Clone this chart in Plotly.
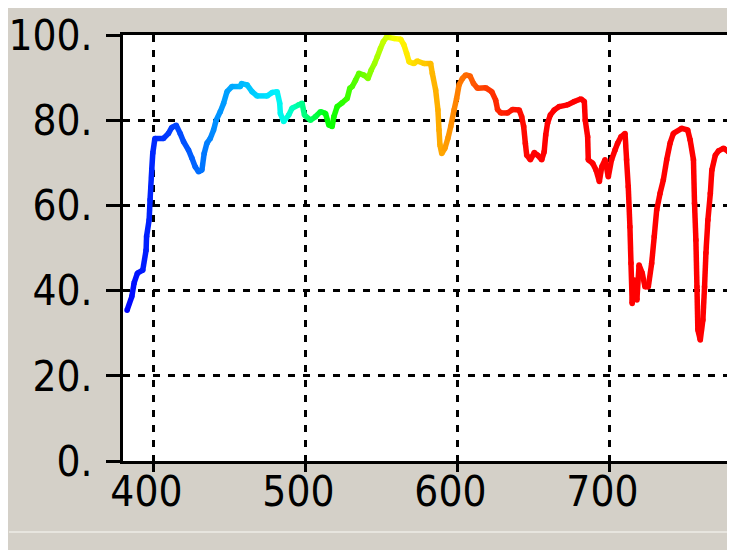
import plotly.graph_objects as go

# Wavelength (nm)
wavelength = [
    382.7, 385.8, 387.3, 389.5, 393.0, 395.2, 395.5, 397.2, 397.8, 398.9,
    399.6, 401.0, 406.6, 409.9, 412.1, 415.0, 417.6, 419.8, 423.1, 425.3,
    427.5, 429.7, 431.9, 433.4, 435.2, 437.4, 439.6, 441.3, 444.0, 446.2,
    448.4, 451.7, 457.2, 458.0, 461.6, 464.9, 468.2, 474.8, 478.1, 481.4,
    483.1, 483.5, 485.7, 489.0, 491.2, 495.6, 497.8, 499.4, 503.3, 506.6,
    509.9, 513.2, 515.4, 517.6, 518.7, 520.9, 524.2, 527.5, 529.2, 530.8,
    533.0, 535.2, 538.5, 541.2, 543.3, 545.5, 547.3, 549.4, 551.2, 553.4,
    558.3, 562.7, 564.8, 566.6, 568.2, 571.4, 573.6, 578.0, 582.4, 583.5,
    585.7, 587.2, 587.9, 588.5, 589.7, 591.8, 593.8, 595.6, 597.8, 599.5,
    601.1, 603.3, 605.5, 608.3, 610.6, 613.2, 618.7, 622.6, 625.2, 626.4,
    628.6, 633.0, 636.3, 640.7, 642.3, 643.6, 644.7, 645.6, 648.0, 650.6,
    652.8, 655.5, 657.1, 658.1, 659.3, 661.1, 663.7, 667.0, 672.5, 676.9,
    681.3, 683.5, 684.1, 685.7, 686.1, 689.0, 691.2, 693.4, 695.0, 697.1,
    699.3, 701.4, 703.7, 705.4, 707.6, 710.3, 711.3, 712.4, 713.5, 714.2,
    715.0, 716.4, 718.1, 719.5, 721.6, 723.4, 725.6, 727.8, 729.5, 731.1,
    733.3, 735.5, 737.7, 739.9, 742.1, 747.6, 751.5, 753.1, 755.3, 756.0,
    756.9, 757.6, 758.2, 759.8, 761.5, 762.6, 763.5, 764.8, 766.4, 767.4,
    769.7, 771.8, 775.1, 778.4, 780.0,
]

# Measured value (%)
values = [
    35.4, 38.6, 41.8, 44.1, 44.8, 49.5, 52.7, 56.6, 61.3, 68.3,
    72.3, 75.7, 75.7, 76.9, 78.3, 78.8, 76.9, 75.0, 73.0, 71.1,
    69.1, 67.9, 68.3, 72.2, 74.6, 75.7, 77.7, 80.0, 82.0, 84.0,
    86.7, 87.9, 87.9, 88.6, 88.3, 86.7, 85.7, 85.7, 86.5, 86.7,
    84.0, 81.6, 79.7, 81.2, 82.8, 83.6, 84.0, 81.2, 80.0, 80.8,
    82.0, 81.6, 78.9, 78.5, 80.8, 83.2, 84.1, 85.1, 87.5, 87.9,
    89.4, 91.0, 90.6, 89.8, 91.8, 93.3, 94.9, 96.9, 98.4, 99.5,
    99.2, 99.0, 97.7, 95.7, 93.7, 93.3, 93.9, 93.3, 93.3, 91.0,
    87.1, 82.4, 77.7, 74.2, 72.2, 73.4, 75.8, 78.5, 82.4, 85.1,
    88.3, 89.8, 90.6, 90.4, 88.6, 87.5, 87.6, 86.7, 84.7, 82.5,
    81.7, 81.7, 82.5, 82.4, 80.8, 78.5, 74.6, 71.8, 70.7, 72.4,
    71.8, 70.7, 72.6, 76.5, 79.3, 81.2, 82.4, 83.2, 83.6, 84.4,
    85.0, 84.4, 80.0, 76.1, 70.7, 69.9, 68.3, 65.6, 69.1, 70.7,
    66.7, 70.7, 73.0, 74.6, 76.1, 76.9, 70.7, 64.4, 55.0, 46.4,
    37.0, 42.5, 37.8, 46.0, 44.1, 40.9, 40.9, 46.4, 52.7, 58.9,
    62.8, 66.0, 70.7, 74.6, 76.9, 78.1, 77.7, 75.4, 70.7, 60.5,
    51.9, 40.9, 30.8, 28.4, 33.1, 40.9, 48.8, 56.6, 62.8, 68.3,
    71.8, 72.8, 73.4, 72.6, 72.6,
]

x_ticks = [400, 500, 600, 700]
x_tick_labels = ["400", "500", "600", "700"]
y_ticks = [0, 20, 40, 60, 80, 100]
y_tick_labels = ["0.", "20.", "40.", "60.", "80.", "100."]
x_title = "波長(nm)"

# spectral colour stops (styling)
stops = [
    (380, (0, 0, 255)), (400, (0, 40, 255)), (420, (0, 80, 255)),
    (440, (0, 140, 255)), (460, (0, 190, 255)), (480, (0, 240, 255)),
    (488, (0, 255, 220)), (500, (0, 255, 120)), (515, (0, 255, 0)),
    (540, (120, 255, 0)), (555, (220, 255, 0)), (560, (255, 255, 0)),
    (575, (255, 210, 0)), (590, (255, 165, 0)), (600, (255, 128, 0)),
    (615, (255, 70, 0)), (630, (255, 30, 0)), (650, (255, 0, 0)),
]


def spectral(w):
    if w <= stops[0][0]:
        c = stops[0][1]
    elif w >= stops[-1][0]:
        c = stops[-1][1]
    else:
        for (w0, c0), (w1, c1) in zip(stops[:-1], stops[1:]):
            if w0 <= w <= w1:
                t = (w - w0) / (w1 - w0)
                c = tuple(round(a + (b - a) * t) for a, b in zip(c0, c1))
                break
    return "rgb(%d,%d,%d)" % c


fig = go.Figure()
for i in range(len(wavelength) - 1):
    mid = (wavelength[i] + wavelength[i + 1]) / 2
    col = spectral(mid)
    fig.add_trace(go.Scatter(
        x=wavelength[i:i + 2], y=values[i:i + 2], mode="lines",
        line=dict(color=col, width=5.5), hoverinfo="skip", showlegend=False,
    ))
fig.add_trace(go.Scatter(
    x=wavelength, y=values, mode="markers",
    marker=dict(size=5.5, color=[spectral(w) for w in wavelength], line=dict(width=0)),
    hoverinfo="skip", showlegend=False,
))

# The page body adds an 8px offset; figure coordinates = screen - 8
OFF = 8
W, H = 735, 550
ML, MR, MT, MB = 123 - OFF, 12, 35 - OFF, 97
PW, PH = W - ML - MR, H - MT - MB


def px_x(p):
    return (p - OFF - ML) / PW


def px_y(p):
    return (H - MB - (p - OFF)) / PH


tick_font = dict(family="DejaVu Sans Condensed, sans-serif", size=42, color="black")

fig.update_layout(
    width=W, height=H, autosize=False,
    margin=dict(l=ML, r=MR, t=MT, b=MB, pad=0, autoexpand=False),
    paper_bgcolor="#D4D0C8", plot_bgcolor="white",
    showlegend=False,
    xaxis=dict(
        range=[380, 780], tickvals=x_ticks, ticktext=x_tick_labels,
        ticks="outside", ticklen=8, tickwidth=3, tickcolor="black",
        showline=True, linewidth=3, linecolor="black", mirror=True,
        showgrid=True, gridcolor="black", gridwidth=3, griddash="7px,8px",
        zeroline=False, tickfont=tick_font, ticklabelshift=-7,
        ticklabelstandoff=-16, automargin=False, ticklabeloverflow="allow",
    ),
    yaxis=dict(
        range=[0, 100], tickvals=y_ticks, ticktext=y_tick_labels,
        ticks="outside", ticklen=14, tickwidth=3, tickcolor="black",
        showline=True, linewidth=3, linecolor="black", mirror=True,
        showgrid=True, gridcolor="black", gridwidth=3, griddash="7px,8px",
        zeroline=False, tickfont=tick_font, ticklabelstandoff=5,
        automargin=False, ticklabeloverflow="allow",
    ),
    shapes=[
        dict(type="line", xref="paper", yref="paper",
             x0=px_x(9), x1=px_x(W + 20), y0=px_y(532), y1=px_y(532),
             line=dict(color="#EEECE7", width=1.5)),
    ],
    annotations=[
        dict(text=x_title, xref="paper", yref="paper",
             x=px_x(420), y=px_y(541), xanchor="center", yanchor="top",
             showarrow=False,
             font=dict(family="Noto Sans CJK JP", size=22, color="black")),
    ],
)

fig.write_html("out.html")
